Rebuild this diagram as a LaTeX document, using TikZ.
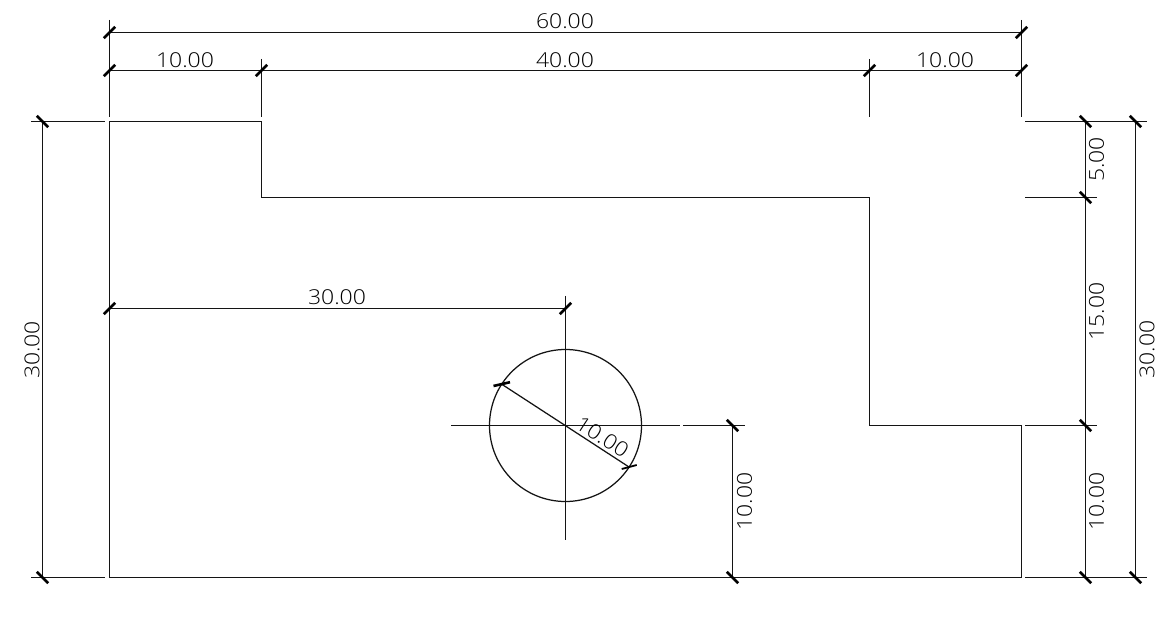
\documentclass[tikz,border=0pt]{standalone}
\usepackage{fontspec}
\newfontfamily\dimfont[FakeStretch=1.12]{Open Sans Light}
\tikzset{
  cadline/.style={line width=1.25bp,color=black!92},
  dimtick/.style={line width=2.6bp,color=black},
  dimtext/.style={inner sep=0pt,font=\dimfont\fontsize{20.5bp}{20.5bp}\selectfont,color=black},
}
\newcommand{\slashtick}[2]{\draw[dimtick] (#1-5.7,#2+5.7) -- (#1+5.7,#2-5.7);}
\newcommand{\backtick}[2]{\draw[dimtick] (#1-5.7,#2-5.7) -- (#1+5.7,#2+5.7);}
\begin{document}
\begin{tikzpicture}[x=1bp,y=-1bp]
\useasboundingbox (0,0) rectangle (1167,618);
% object outline
\draw[cadline] (109.5,121.5) -- (261.5,121.5) -- (261.5,197.5) -- (869.5,197.5) -- (869.5,425.5) -- (1021.5,425.5) -- (1021.5,577.5) -- (109.5,577.5) -- cycle;
% hole and centre lines
\coordinate (c) at (565.5,425.5);
\draw[cadline] (c) circle (76);
\draw[cadline] (565.5,296) -- (565.5,540);
\draw[cadline] (451,425.5) -- (680,425.5);
\draw[cadline] (683,425.5) -- (745,425.5);
% top dimensions
\draw[cadline] (109.5,20) -- (109.5,117.5);
\draw[cadline] (261.5,59) -- (261.5,117.5);
\draw[cadline] (869.5,59) -- (869.5,117.5);
\draw[cadline] (1021.5,20) -- (1021.5,117.5);
\draw[cadline] (109.5,32.5) -- (1021.5,32.5);
\draw[cadline] (109.5,70.5) -- (1021.5,70.5);
\slashtick{109.5}{32.5}\slashtick{1021.5}{32.5}
\slashtick{109.5}{70.5}\slashtick{261.5}{70.5}\slashtick{869.5}{70.5}\slashtick{1021.5}{70.5}
\node[dimtext] (t60) at (565,21.5) {60.00};
\node[dimtext] (t10a) at (185,60) {10.00};
\node[dimtext] (t40) at (565,60) {40.00};
\node[dimtext] (t10b) at (945,60) {10.00};
% left dimension
\draw[cadline] (31,121.5) -- (105,121.5);
\draw[cadline] (31,577.5) -- (105,577.5);
\draw[cadline] (42.5,121.5) -- (42.5,577.5);
\backtick{42.5}{121.5}\backtick{42.5}{577.5}
\node[dimtext,rotate=90] (t30l) at (32,350) {30.00};
% hole position
\draw[cadline] (109.5,308.5) -- (565.5,308.5);
\slashtick{109.5}{308.5}\slashtick{565.5}{308.5}
\node[dimtext] (t30h) at (337,297) {30.00};
\draw[cadline] (683,577.5) -- (745,577.5);
\draw[cadline] (732.5,425.5) -- (732.5,577.5);
\backtick{732.5}{425.5}\backtick{732.5}{577.5}
\node[dimtext,rotate=90] (t10h) at (744.5,501.5) {10.00};
% diameter
\draw[cadline] (501.7,384.2) -- (628.7,466.8);
\draw[dimtick] (493.5,386) -- (510,382.2);
\draw[line width=1.8bp,color=black] (621.7,469) -- (636.7,465);
\node[dimtext,rotate=-33] (t10d) at (602.5,437) {10.00};
% right dimensions
\draw[cadline] (1025,121.5) -- (1147,121.5);
\draw[cadline] (1025,197.5) -- (1097,197.5);
\draw[cadline] (1025,425.5) -- (1097,425.5);
\draw[cadline] (1025,577.5) -- (1147,577.5);
\draw[cadline] (1085.5,121.5) -- (1085.5,577.5);
\draw[cadline] (1135.5,121.5) -- (1135.5,577.5);
\backtick{1085.5}{121.5}\backtick{1085.5}{197.5}\backtick{1085.5}{425.5}\backtick{1085.5}{577.5}
\backtick{1135.5}{121.5}\backtick{1135.5}{577.5}
\node[dimtext,rotate=90] (t5) at (1096.5,159.5) {5.00};
\node[dimtext,rotate=90] (t15) at (1096.5,311.5) {15.00};
\node[dimtext,rotate=90] (t10r) at (1096.5,501.5) {10.00};
\node[dimtext,rotate=90] (t30r) at (1147,349.5) {30.00};
\end{tikzpicture}
\end{document}
